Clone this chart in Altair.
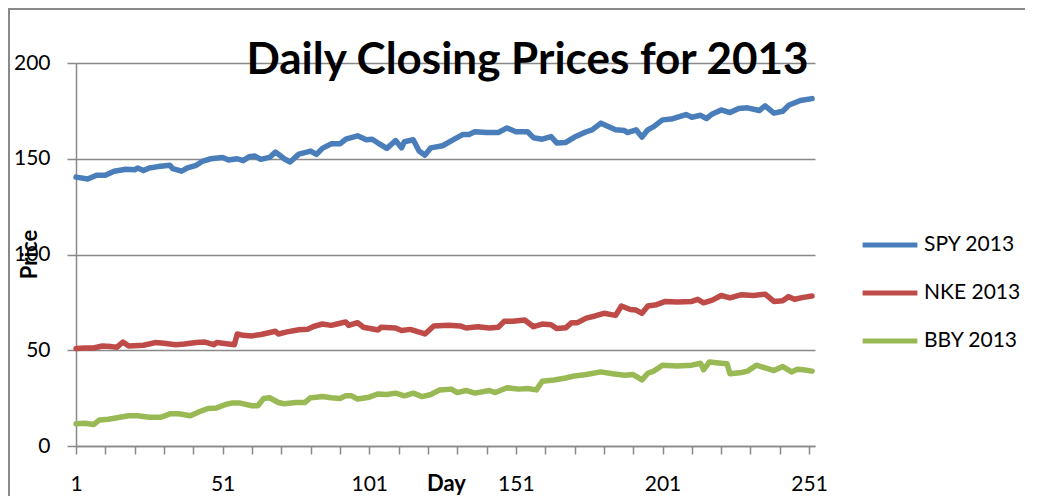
import altair as alt
import pandas as pd

# ---- data ----
spy_days = [1, 5, 8, 11, 14, 18, 21, 22, 24, 26, 29, 33, 34, 37, 39, 42, 44, 47, 51, 53, 56, 58, 60, 62, 64, 67, 69, 70, 72, 74, 77, 81, 83, 85, 88, 91, 93, 97, 100, 102, 104, 107, 110, 112, 113, 116, 118, 120, 122, 126, 130, 133, 135, 137, 141, 145, 148, 151, 155, 157, 160, 163, 165, 168, 171, 175, 177, 180, 185, 188, 189, 192, 194, 196, 198, 201, 204, 209, 211, 214, 216, 218, 221, 224, 227, 230, 234, 236, 239, 242, 244, 248, 252]
spy_vals = [140.4, 139.4, 141.4, 141.4, 143.5, 144.5, 144.2, 145.2, 143.8, 145.2, 145.9, 146.6, 144.8, 143.5, 145.2, 146.6, 148.6, 150.0, 150.7, 149.3, 150.0, 149.0, 151.0, 151.4, 149.7, 150.7, 153.5, 152.4, 150.0, 148.3, 152.4, 154.0, 152.3, 155.4, 157.8, 157.8, 160.2, 162.0, 159.9, 160.2, 158.2, 155.4, 159.5, 155.7, 158.9, 159.9, 154.0, 151.9, 155.7, 156.8, 160.2, 162.7, 162.7, 164.1, 163.7, 163.7, 166.1, 164.1, 164.1, 161.0, 160.2, 161.6, 158.2, 158.5, 161.3, 164.1, 165.1, 168.6, 165.1, 164.8, 163.7, 165.1, 161.3, 165.1, 166.8, 170.3, 170.7, 173.1, 171.7, 172.7, 171.0, 173.4, 175.5, 174.1, 176.2, 176.6, 175.2, 177.6, 173.8, 174.8, 177.9, 180.4, 181.4]

nke_days = [1, 4, 7, 10, 13, 15, 17, 19, 24, 28, 31, 35, 38, 42, 45, 48, 49, 53, 55, 56, 58, 61, 64, 66, 69, 70, 73, 77, 80, 82, 85, 88, 90, 93, 94, 97, 99, 104, 105, 110, 112, 115, 120, 123, 128, 132, 134, 138, 142, 145, 147, 150, 154, 157, 160, 163, 165, 168, 170, 172, 175, 178, 181, 185, 187, 190, 192, 194, 196, 199, 202, 206, 211, 213, 215, 218, 221, 224, 228, 232, 236, 239, 242, 244, 246, 249, 252]
nke_vals = [50.9, 51.2, 51.2, 52.2, 51.9, 51.6, 54.3, 52.2, 52.6, 54.0, 53.6, 52.9, 53.3, 54.0, 54.3, 52.9, 54.0, 53.3, 52.9, 58.5, 57.8, 57.5, 58.2, 58.9, 59.9, 58.5, 59.6, 60.7, 61.0, 62.4, 63.7, 63.0, 63.7, 64.8, 63.0, 64.4, 62.0, 60.6, 62.0, 61.6, 60.3, 60.9, 58.5, 62.7, 63.0, 62.7, 61.6, 62.3, 61.6, 62.0, 65.1, 65.1, 65.8, 62.3, 63.7, 63.3, 61.3, 61.7, 64.4, 64.4, 66.8, 67.9, 69.3, 68.2, 73.1, 71.3, 71.0, 69.3, 73.1, 73.8, 75.5, 75.2, 75.5, 76.6, 74.8, 76.2, 78.6, 77.3, 79.0, 78.6, 79.3, 75.5, 75.9, 78.0, 76.6, 77.6, 78.3]

bby_days = [1, 4, 7, 9, 12, 16, 19, 22, 26, 30, 33, 36, 40, 43, 46, 49, 52, 54, 57, 61, 63, 65, 67, 70, 72, 76, 79, 81, 83, 85, 88, 91, 93, 95, 97, 101, 104, 107, 110, 113, 116, 119, 122, 125, 129, 131, 134, 137, 142, 144, 148, 152, 155, 158, 160, 164, 168, 171, 175, 180, 184, 188, 191, 194, 196, 198, 201, 206, 211, 214, 215, 217, 221, 223, 224, 228, 230, 233, 236, 239, 242, 245, 247, 249, 252]
bby_vals = [11.6, 11.9, 11.2, 13.6, 14.0, 15.0, 15.8, 15.8, 15.0, 15.0, 16.8, 16.8, 15.8, 17.9, 19.6, 19.9, 21.7, 22.4, 22.4, 21.0, 21.0, 24.8, 25.2, 22.7, 22.1, 22.7, 22.7, 25.2, 25.5, 25.8, 25.2, 24.8, 26.2, 26.2, 24.5, 25.5, 27.2, 26.9, 27.6, 26.2, 27.6, 25.8, 26.9, 29.3, 29.7, 27.9, 29.0, 27.6, 29.0, 27.9, 30.4, 29.7, 30.0, 29.3, 33.8, 34.5, 35.5, 36.6, 37.3, 38.7, 37.7, 37.0, 37.3, 34.5, 38.0, 39.1, 42.2, 41.8, 42.2, 43.2, 39.8, 43.9, 43.2, 42.9, 37.7, 38.4, 39.1, 42.2, 40.8, 39.4, 41.5, 38.7, 40.1, 39.8, 39.1]

series_names = ["SPY 2013", "NKE 2013", "BBY 2013"]
series_colors = ["#4A7EBB", "#BE4B48", "#98B954"]
y_ticks = [0, 50, 100, 150, 200]
x_ticks = list(range(1, 252, 10))

rows = []
for name, days, vals in zip(series_names, [spy_days, nke_days, bby_days], [spy_vals, nke_vals, bby_vals]):
    for d, v in zip(days, vals):
        rows.append({"series": name, "day": d, "price": v})
df = pd.DataFrame(rows)

FONT = "Lato"
GRAY = "#898989"

lines = alt.Chart(df).mark_line(
    strokeWidth=5.5, strokeCap="round", strokeJoin="round"
).encode(
    x=alt.X("day:Q",
            scale=alt.Scale(domain=[1, 253], nice=False, zero=False),
            axis=alt.Axis(title="Day", values=x_ticks, format="d",
                          labelExpr="(datum.value - 1) % 50 == 0 ? datum.label : ''",
                          grid=False, domainColor=GRAY, domainWidth=1.5,
                          tickColor=GRAY, tickWidth=1.5, tickSize=8,
                          labelFont=FONT, labelFontSize=21, labelColor="black",
                          labelBaseline="alphabetic", labelPadding=36, labelFlush=False,
                          titleFont=FONT, titleFontSize=22, titleFontWeight="bold",
                          titleColor="black", titleBaseline="alphabetic",
                          titleY=44, titleX=370)),
    y=alt.Y("price:Q",
            scale=alt.Scale(domain=[0, 200], nice=False),
            axis=alt.Axis(title="Price", values=y_ticks, grid=True,
                          gridColor=GRAY, gridWidth=1.5,
                          domainColor=GRAY, domainWidth=1.5,
                          tickColor=GRAY, tickWidth=1.5, tickSize=9,
                          labelFont=FONT, labelFontSize=21, labelColor="black",
                          labelPadding=17,
                          titleFont=FONT, titleFontSize=22, titleFontWeight="bold",
                          titleColor="black", titleX=-47, titleY=191,
                          titleBaseline="middle", titleAngle=270)),
    color=alt.Color("series:N",
                    scale=alt.Scale(domain=series_names, range=series_colors),
                    legend=alt.Legend(orient="none", legendX=784, legendY=152,
                                      title=None, symbolType="stroke",
                                      symbolSize=3000, symbolStrokeWidth=5,
                                      labelFont=FONT, labelFontSize=21,
                                      labelColor="black", labelOffset=4,
                                      rowPadding=8, padding=0)),
    order=alt.Order("day:Q"),
)

border_left = alt.Chart(df).mark_rule(color=GRAY, strokeWidth=1.5).encode(
    x=alt.value(-67.25), y=alt.value(-54.25), y2=alt.value(440))
border_top = alt.Chart(df).mark_rule(color=GRAY, strokeWidth=1.5).encode(
    x=alt.value(-67.25), x2=alt.value(960), y=alt.value(-54.25))

chart = alt.layer(border_left, border_top, lines).properties(
    width=739, height=383,
    title=alt.TitleParams("Daily Closing Prices for 2013", font=FONT, fontSize=44,
                          fontWeight="bold", color="black", anchor="middle",
                          dx=82, dy=61, offset=-14),
    autosize=alt.AutoSizeParams(type="none"),
    padding={"left": 68, "top": 55, "right": 210, "bottom": 50},
).configure_view(stroke=None)

chart.save("out.html", embed_options={"renderer": "svg", "actions": False})
